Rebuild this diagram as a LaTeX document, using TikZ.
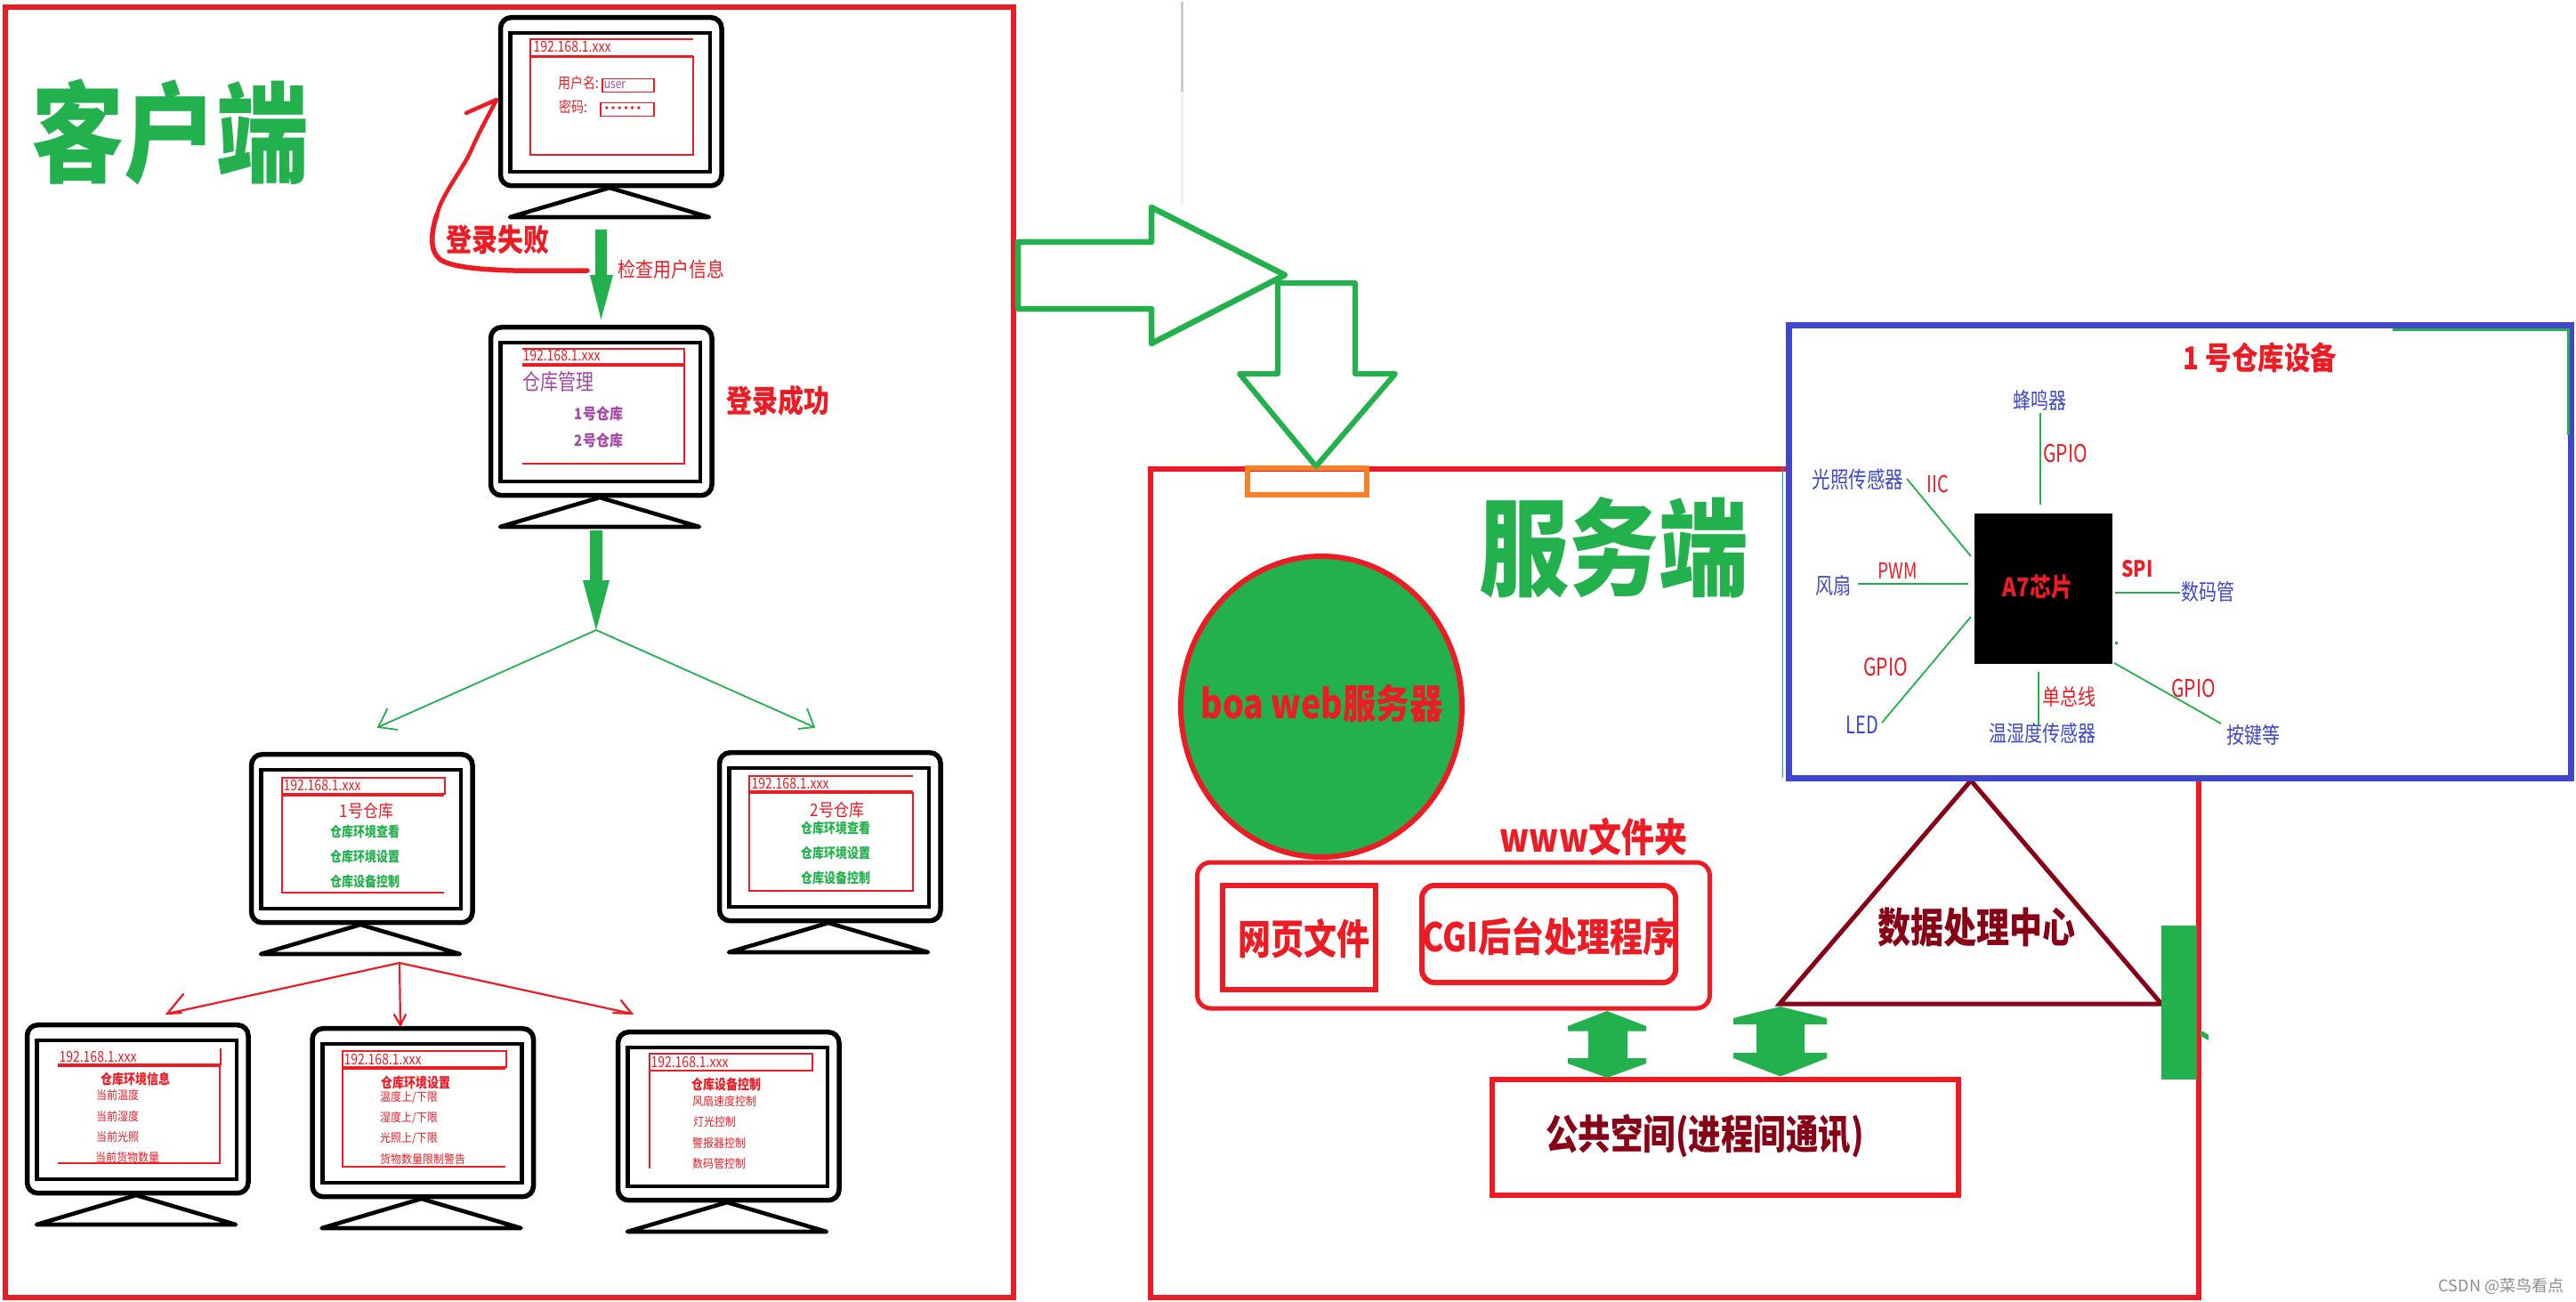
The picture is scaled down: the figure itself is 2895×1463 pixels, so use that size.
\documentclass[tikz,border=0pt]{standalone}
\usetikzlibrary{shapes.geometric}
\usepackage{fontspec}
\setmainfont{Noto Sans CJK SC}
\newfontfamily\latinf{Liberation Sans}
\definecolor{cred}{HTML}{ED1C24}
\definecolor{cgreen}{HTML}{22B14C}
\definecolor{cdark}{HTML}{880015}
\definecolor{cblue}{HTML}{3F48CC}
\definecolor{corange}{HTML}{FF7F27}
\definecolor{cpurple}{HTML}{A349A4}
\definecolor{ccyan}{HTML}{00A2E8}
\newcommand\TxtR[3]{\scalebox{1}[#2]{\fontsize{#1}{#1}\selectfont #3}}
\newcommand\TxtB[3]{\scalebox{1}[#2]{\fontsize{#1}{#1}\selectfont\bfseries #3}}
\newcommand\IP{\TxtR{14}{1.2}{192.168.1.xxx}}
\tikzset{
  tx/.style={inner sep=0pt,outer sep=0pt,text=#1,anchor=center},
  framebox/.style={draw=#1,fill=none,inner sep=0pt,outer sep=0pt,anchor=north west},
  monbody/.style={draw=black,line width=5.5pt,rounded corners=12pt,minimum width=248.5pt,minimum height=189pt,inner sep=0pt,outer sep=0pt,anchor=north west},
  monscreen/.style={draw=black,line width=4.8pt,minimum width=224.3pt,minimum height=156pt,inner sep=0pt,outer sep=0pt,anchor=north west},
  standline/.style={draw=black,line width=4.6pt,line join=round,line cap=round},
  webline/.style={draw=cred,line width=1.1pt},
  thinlink/.style={draw=cgreen,line width=1.8pt},
  fatlink/.style={draw=cgreen,line width=2.6pt},
  redlink/.style={draw=cred,line width=2.2pt,line cap=round},
  hollow/.style={draw=cgreen,line width=6.5pt,line join=round,fill=white},
  solidgreen/.style={fill=cgreen,draw=none},
}
\newcommand\Mon[3]{%
  \node[monbody] (#1) at (#2+1.5,#3+2.7) {};
  \node[monscreen] (#1s) at (#2+12.7,#3+20) {};
  \coordinate (#1apex) at (#2+124,#3+194);
  \coordinate (#1bl) at (#2+12,#3+227);
  \coordinate (#1br) at (#2+236,#3+227);
  \draw[standline] (#1apex) -- (#1bl) -- (#1br) -- cycle;
}
\begin{document}
\begin{tikzpicture}[x=1pt,y=-1pt]
\useasboundingbox (0,0) rectangle (2895,1463);
\fill[white] (0,0) rectangle (2895,1463);

% grey stray line
\fill[black!20] (1327,2) rectangle (1330,103);
\fill[black!6] (1327,103) rectangle (1330,230);

% client frame
\node[framebox=cred,line width=6pt,minimum width=1132.5pt,minimum height=1449.5pt] (client) at (6,8.5) {};
\node[tx=cgreen] (clienttitle) at (191,149) {\TxtB{104}{1.18}{客户端}};

% monitors
\Mon{ma}{561}{17}
\Mon{mb}{550}{365}
\Mon{mc}{281}{845}
\Mon{md}{807}{843}
\Mon{me}{29}{1149}
\Mon{mf}{349.5}{1153}
\Mon{mg}{693}{1157}

% monitor a contents
\draw[webline] (779,44) -- (596,44) -- (596,62.5) -- (779,62.5);
\draw[webline] (596,64) rectangle (779,174);
\node[tx=cred] (aip) at (643,53) {\IP};
\node[tx=cred] (auser) at (650,93) {\TxtR{14}{1.2}{用户名:}};
\node[tx=cred] (apass) at (644,120) {\TxtR{14}{1.2}{密码:}};
\draw[webline] (677,88.5) rectangle (735,103.5);
\draw[webline] (675,115.5) rectangle (735,130.5);
\node[tx=cpurple] (auname) at (691,96) {\TxtR{12}{1.2}{user}};
\node[tx=cred] (adots) at (700,123) {\fontsize{12}{12}\selectfont\latinf •\kern3pt•\kern3pt•\kern3pt•\kern3pt•\kern3pt•};

% monitor b contents
\draw[webline] (587,392) -- (769,392) -- (769,409) -- (587,409);
\draw[webline] (587,411) -- (769,411) -- (769,521) -- (587,521);
\node[tx=cred] (bip) at (631,400) {\IP};
\node[tx=cpurple] (btitle) at (627,429) {\TxtR{20}{1.25}{仓库管理}};
\node[tx=cpurple] (bone) at (673,465) {\TxtB{15}{1.15}{1号仓库}};
\node[tx=cpurple] (btwo) at (673,495) {\TxtB{15}{1.15}{2号仓库}};

% monitor c contents
\draw[webline] (317,874) rectangle (500,892);
\draw[webline] (499,894) -- (317,894) -- (317,1003) -- (499,1003);
\node[tx=cred] (cip) at (362,883) {\IP};
\node[tx=cred] (ctitle) at (412,911) {\TxtR{17}{1.15}{1号仓库}};
\node[tx=cgreen] (cone) at (410,935) {\TxtB{13}{1.2}{仓库环境查看}};
\node[tx=cgreen] (ctwo) at (410,963) {\TxtB{13}{1.2}{仓库环境设置}};
\node[tx=cgreen] (cthree) at (410,991) {\TxtB{13}{1.2}{仓库设备控制}};

% monitor d contents
\draw[webline] (1026,872) -- (842,872) -- (842,889) -- (1026,889);
\draw[webline] (842,891) rectangle (1026,1001);
\node[tx=cred] (dip) at (888,881) {\IP};
\node[tx=cred] (dtitle) at (941,910) {\TxtR{17}{1.15}{2号仓库}};
\node[tx=cgreen] (done) at (939,931) {\TxtB{13}{1.2}{仓库环境查看}};
\node[tx=cgreen] (dtwo) at (939,959) {\TxtB{13}{1.2}{仓库环境设置}};
\node[tx=cgreen] (dthree) at (939,987) {\TxtB{13}{1.2}{仓库设备控制}};

% monitor e contents
\draw[webline] (248,1178) -- (248,1196) -- (65,1196);
\draw[webline] (65,1198) -- (247,1198) -- (247,1307) -- (65,1307);
\node[tx=cred] (eip) at (110,1187) {\IP};
\node[tx=cred] (etitle) at (152,1212) {\TxtB{13}{1.2}{仓库环境信息}};
\node[tx=cred] (eone) at (132,1230) {\TxtR{12}{1.1}{当前温度}};
\node[tx=cred] (etwo) at (132,1254) {\TxtR{12}{1.1}{当前湿度}};
\node[tx=cred] (ethree) at (132,1277) {\TxtR{12}{1.1}{当前光照}};
\node[tx=cred] (efour) at (143,1300) {\TxtR{12}{1.1}{当前货物数量}};

% monitor f contents
\draw[webline] (385,1181) rectangle (569,1199);
\draw[webline] (568,1201) -- (385,1201) -- (385,1311) -- (568,1311);
\node[tx=cred] (fip) at (430,1190) {\IP};
\node[tx=cred] (ftitle) at (467,1217) {\TxtB{13}{1.2}{仓库环境设置}};
\node[tx=cred] (fone) at (459.5,1233) {\TxtR{12}{1.1}{温度上/下限}};
\node[tx=cred] (ftwo) at (459.5,1256) {\TxtR{12}{1.1}{湿度上/下限}};
\node[tx=cred] (fthree) at (459.5,1279) {\TxtR{12}{1.1}{光照上/下限}};
\node[tx=cred] (ffour) at (475,1302) {\TxtR{12}{1.1}{货物数量限制警告}};

% monitor g contents
\draw[webline] (730,1184) rectangle (913,1203);
\draw[webline] (730,1203) -- (730,1313);
\node[tx=cred] (gip) at (775,1193) {\IP};
\node[tx=cred] (gtitle) at (816,1219) {\TxtB{13}{1.2}{仓库设备控制}};
\node[tx=cred] (gone) at (814,1237) {\TxtR{12}{1.1}{风扇速度控制}};
\node[tx=cred] (gtwo) at (803,1260) {\TxtR{12}{1.1}{灯光控制}};
\node[tx=cred] (gthree) at (808,1284) {\TxtR{12}{1.1}{警报器控制}};
\node[tx=cred] (gfour) at (808,1307) {\TxtR{12}{1.1}{数码管控制}};

% login failed loop
\coordinate (failstart) at (660,304);
\coordinate (failbend) at (491,241);
\coordinate (failtip) at (558,112);
\coordinate (failbarb) at (524,127);
\draw[cred,line width=5.5pt,line cap=round,line join=round]
  (failstart) -- (577,304) .. controls (540,303) and (505,300) .. (494,291)
  .. controls (483,282) and (484,262) .. (failbend);
\draw[cred,line width=4.5pt,line cap=round,line join=round]
  (failbend) .. controls (497,218) and (520,190) .. (529,170)
  .. controls (540,145) and (550,128) .. (failtip)
  -- (failbarb);
\node[tx=cred] (failtext) at (559,269) {\TxtB{29}{1.2}{登录失败}};
\node[tx=cred] (checktext) at (754,303) {\TxtR{20}{1.15}{检查用户信息}};
\node[tx=cred] (oktext) at (874,450) {\TxtB{29}{1.2}{登录成功}};

% solid green arrows
\coordinate (arrAtop) at (675.5,258);
\coordinate (arrAtip) at (675.5,359);
\fill[solidgreen] (669,258) -- (682,258) -- (682,309) -- (689,309) -- (arrAtip) -- (663,309) -- (669,309) -- cycle;
\coordinate (arrBtop) at (670,596);
\coordinate (arrBtip) at (670,708);
\fill[solidgreen] (663,596) -- (677,596) -- (677,652) -- (685,652) -- (arrBtip) -- (655,652) -- (663,652) -- cycle;

% green fork
\coordinate (forkL) at (425,817);
\coordinate (forkR) at (915,817);
\draw[thinlink] (arrBtip) -- (forkL);
\draw[thinlink] (arrBtip) -- (forkR);
\draw[thinlink] (435.5,796) -- (forkL) -- (447,820);
\draw[thinlink] (907,796) -- (forkR) -- (897,819);

% red fork
\coordinate (treeTop) at (449,1082);
\coordinate (treeL) at (188,1139);
\coordinate (treeM) at (450,1152);
\coordinate (treeR) at (710,1139);
\draw[redlink] (treeTop) -- (treeL);
\draw[redlink] (treeTop) -- (treeM);
\draw[redlink] (treeTop) -- (treeR);
\draw[redlink] (206,1117) -- (treeL) -- (204,1138);
\draw[redlink] (443,1140) -- (treeM) -- (456,1140);
\draw[redlink] (698,1124) -- (treeR) -- (689,1138);

% server frame
\node[framebox=cred,line width=6pt,minimum width=1178pt,minimum height=931pt] (server) at (1293,526.5) {};
\node[framebox=corange,line width=5.5pt,minimum width=134pt,minimum height=30pt] (port) at (1402,526) {};

% hollow arrows
\coordinate (hollowA) at (1444,309);
\coordinate (hollowB) at (1479,524);
\draw[hollow] (1144,272) -- (1294,272) -- (1294,233) -- (hollowA) -- (1294,386) -- (1294,347) -- (1144,347) -- cycle;
\draw[hollow,line width=6pt] (1436,318) -- (1523,318) -- (1523,420) -- (1568,420) -- (hollowB) -- (1393,420) -- (1436,420) -- cycle;

% server title
\node[tx=cgreen] (servertitle) at (1814,615) {\TxtB{101}{1.18}{服务端}};

% web server
\node[draw=cred,fill=cgreen,ellipse,line width=6pt,minimum width=316pt,minimum height=338pt,inner sep=0pt,outer sep=0pt] (boa) at (1485,794) {};
\node[tx=cred] (boatext) at (1485.5,790) {\TxtB{37.5}{1.2}{boa web服务器}};

\node[tx=cred] (wwwtext) at (1791,940) {\TxtB{37}{1.2}{www文件夹}};
\node[framebox=cred,line width=5pt,rounded corners=15pt,minimum width=576pt,minimum height=164pt] (wwwbox) at (1345.5,969) {};
\node[framebox=cred,line width=6pt,minimum width=172pt,minimum height=117pt] (pagebox) at (1374,995) {};
\node[tx=cred] (pagetext) at (1465,1055) {\TxtB{37}{1.25}{网页文件}};
\node[framebox=cred,line width=6pt,rounded corners=14pt,minimum width=285pt,minimum height=109pt] (cgibox) at (1598,995) {};
\node[tx=cred] (cgitext) at (1741,1052) {\TxtB{37}{1.2}{CGI后台处理程序}};

% triangle
\coordinate (triA) at (2215,877);
\coordinate (triB) at (2000,1128);
\coordinate (triC) at (2429,1128);
\draw[cdark,line width=5pt,line join=miter] (triA) -- (triB) -- (triC) -- cycle;
\node[tx=cdark] (tritext) at (2221,1042) {\TxtB{37}{1.25}{数据处理中心}};

% shared space
\node[framebox=cred,line width=6pt,minimum width=523.5pt,minimum height=130.5pt] (shared) at (1677,1212.5) {};
\node[tx=cdark] (sharedtext) at (1916,1276) {\TxtB{36.5}{1.25}{公共空间(进程间通讯)}};

% double arrows
\fill[solidgreen] (1806,1136) -- (1850,1153) -- (1850,1158.5) -- (1829,1158.5) -- (1829,1189) -- (1850,1189) -- (1850,1195) -- (1806,1211) -- (1762,1195) -- (1762,1189) -- (1785,1189) -- (1785,1158.5) -- (1762,1158.5) -- (1762,1153) -- cycle;
\fill[solidgreen] (2001,1131) -- (2053,1144) -- (2053,1151) -- (2028,1151) -- (2028,1183) -- (2053,1183) -- (2053,1189) -- (2001,1209.5) -- (1948,1189) -- (1948,1183) -- (1974,1183) -- (1974,1151) -- (1948,1151) -- (1948,1144) -- cycle;

% green block
\fill[cgreen] (2429,1040) rectangle (2469,1213);
\fill[cgreen] (2473,1159) -- (2476,1159) -- (2482,1163) -- (2482,1169) -- (2473,1164) -- cycle;

% cyan line
\draw[ccyan,line width=1.6pt] (2003.5,524) -- (2003.5,874);

% device panel
\node[framebox=cblue,fill=white,line width=6.5pt,minimum width=879pt,minimum height=509pt] (panel) at (2010.5,365.5) {};
\draw[cgreen,line width=3pt] (2689,370.5) -- (2886.5,370.5) -- (2886.5,489);
\node[tx=cred] (paneltitle) at (2540,402) {\TxtB{29.5}{1.2}{1 号仓库设备}};

% chip
\node[draw=none,fill=black,minimum width=155pt,minimum height=169pt,inner sep=0pt,outer sep=0pt,anchor=north west] (chip) at (2219,577) {};
\node[tx=cred] (chiptext) at (2290,660) {\TxtB{24}{1.2}{A7芯片}};

% peripherals
\node[tx=cblue] (buzzer) at (2292,450) {\TxtR{20}{1.25}{蜂鸣器}};
\node[tx=cblue] (light) at (2088,539) {\TxtR{20.5}{1.25}{光照传感器}};
\node[tx=cblue] (fan) at (2060,658) {\TxtR{20}{1.25}{风扇}};
\node[tx=cblue] (led) at (2093,815) {\TxtR{20}{1.35}{LED}};
\node[tx=cblue] (temp) at (2295,824) {\TxtR{20}{1.25}{温湿度传感器}};
\node[tx=cblue] (key) at (2532,826) {\TxtR{20}{1.25}{按键等}};
\node[tx=cblue] (seg) at (2481,665) {\TxtR{20}{1.25}{数码管}};

\node[tx=cred] (lgpioa) at (2321,509) {\TxtR{21}{1.3}{GPIO}};
\node[tx=cred] (liic) at (2178,544) {\TxtR{20}{1.3}{IIC}};
\node[tx=cred] (lpwm) at (2133,641) {\TxtR{19}{1.3}{PWM}};
\node[tx=cred] (lgpiob) at (2119,749) {\TxtR{21}{1.3}{GPIO}};
\node[tx=cred] (lbus) at (2325,783) {\TxtR{20}{1.25}{单总线}};
\node[tx=cred] (lspi) at (2402,639) {\TxtB{21}{1.2}{SPI}};
\node[tx=cred] (lgpioc) at (2465,773) {\TxtR{21}{1.3}{GPIO}};

\coordinate (pTop) at (2293,464);
\coordinate (cTop) at (2293,567);
\draw[thinlink] (pTop) -- (cTop);
\coordinate (pLight) at (2143,538);
\coordinate (cLight) at (2215,625);
\draw[thinlink] (pLight) -- (cLight);
\coordinate (pFan) at (2088,656);
\coordinate (cFan) at (2212,656);
\draw[fatlink] (pFan) -- (cFan);
\coordinate (pLed) at (2115,812);
\coordinate (cLed) at (2215,693);
\draw[thinlink] (pLed) -- (cLed);
\coordinate (pTemp) at (2291,815);
\coordinate (cTemp) at (2291,755);
\draw[thinlink] (pTemp) -- (cTemp);
\coordinate (pSeg) at (2450,666);
\coordinate (cSeg) at (2377,666);
\draw[fatlink] (pSeg) -- (cSeg);
\coordinate (pKey) at (2496,813);
\coordinate (cKey) at (2376,745);
\draw[thinlink] (pKey) -- (cKey);
\fill[cgreen] (2377,721) rectangle (2380,724);

% watermark
\node[tx=black!45] (mark) at (2811,1445) {\TxtR{18}{1}{CSDN @菜鸟看点}};
\end{tikzpicture}
\end{document}
